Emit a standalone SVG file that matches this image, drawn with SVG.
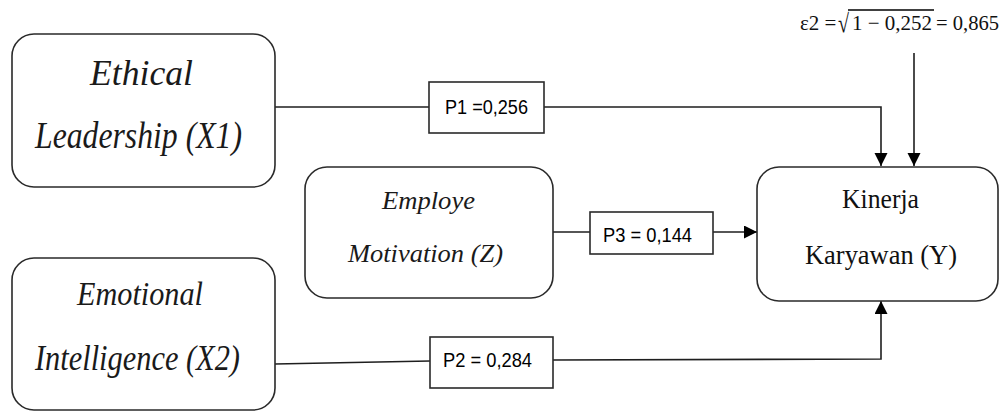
<svg xmlns="http://www.w3.org/2000/svg" width="1000" height="412" viewBox="0 0 1000 412">
<style>
.node{fill:#fff;stroke:#2a2a2a;stroke-width:1.6}
.lbl{fill:#fff;stroke:#2a2a2a;stroke-width:1.6}
.it{font-family:"Liberation Serif",serif;font-style:italic;fill:#1a1a1a}
.rm{font-family:"Liberation Serif",serif;fill:#111}
.p{font-family:"Liberation Sans",sans-serif;font-size:20px;fill:#000}
.c{fill:none;stroke:#1e1e1e;stroke-width:1.6}
</style>
<defs>
<marker id="ah" markerUnits="userSpaceOnUse" markerWidth="14" markerHeight="14" refX="13" refY="6.5" orient="auto">
<path d="M0,0 L13,6.5 L0,13 Z" fill="#000"/>
</marker>
</defs>
<g id="connectors">
<line class="c" x1="275" y1="107" x2="429" y2="107"/>
<path class="c" d="M544,107 H881 V166" marker-end="url(#ah)"/>
<line class="c" x1="275" y1="364" x2="430" y2="361"/>
<path class="c" d="M553,360 L881,359 V301" marker-end="url(#ah)"/>
<line class="c" x1="553" y1="232" x2="590" y2="232"/>
<line class="c" x1="713" y1="232" x2="757" y2="232" marker-end="url(#ah)"/>
<line class="c" x1="914" y1="53" x2="914" y2="166" marker-end="url(#ah)"/>
</g>
<g id="x1">
<rect class="node" x="12" y="34" width="263" height="153" rx="22"/>
<text class="it" x="90" y="85" font-size="35" textLength="103" lengthAdjust="spacingAndGlyphs">Ethical</text>
<text class="it" x="35" y="148" font-size="37" textLength="207" lengthAdjust="spacingAndGlyphs">Leadership (X1)</text>
</g>
<g id="x2">
<rect class="node" x="12" y="258" width="263" height="152" rx="22"/>
<text class="it" x="77" y="305" font-size="33" textLength="126" lengthAdjust="spacingAndGlyphs">Emotional</text>
<text class="it" x="35" y="370" font-size="35" textLength="205" lengthAdjust="spacingAndGlyphs">Intelligence (X2)</text>
</g>
<g id="z">
<rect class="node" x="305" y="167" width="248" height="131" rx="22"/>
<text class="it" x="382" y="209" font-size="25" textLength="93" lengthAdjust="spacingAndGlyphs">Employe</text>
<text class="it" x="348" y="262" font-size="26" textLength="155" lengthAdjust="spacingAndGlyphs">Motivation (Z)</text>
</g>
<g id="y">
<rect class="node" x="757" y="167" width="241" height="134" rx="22"/>
<text class="rm" x="842" y="208" font-size="27" textLength="77" lengthAdjust="spacingAndGlyphs">Kinerja</text>
<text class="rm" x="805" y="264" font-size="28" textLength="152" lengthAdjust="spacingAndGlyphs">Karyawan (Y)</text>
</g>
<g id="p1">
<rect class="lbl" x="429" y="82" width="115" height="51"/>
<text class="p" x="445" y="114" textLength="83" lengthAdjust="spacingAndGlyphs">P1 =0,256</text>
</g>
<g id="p2">
<rect class="lbl" x="430" y="337" width="123" height="51"/>
<text class="p" x="443" y="367" textLength="89" lengthAdjust="spacingAndGlyphs">P2 = 0,284</text>
</g>
<g id="p3">
<rect class="lbl" x="590" y="212" width="123" height="42"/>
<text class="p" x="603" y="242" textLength="89" lengthAdjust="spacingAndGlyphs">P3 = 0,144</text>
</g>
<g id="epsilon">
<text class="rm" x="800" y="30" font-size="21">ε2 =</text>
<text class="rm" x="838" y="32" font-size="26" textLength="11" lengthAdjust="spacingAndGlyphs">√</text>
<line x1="848" y1="10" x2="934" y2="10" stroke="#000" stroke-width="1.3"/>
<text class="rm" x="852" y="30" font-size="21" textLength="80" lengthAdjust="spacingAndGlyphs">1 − 0,252</text>
<text class="rm" x="936" y="30" font-size="21" textLength="63" lengthAdjust="spacingAndGlyphs">= 0,865</text>
</g>
</svg>
